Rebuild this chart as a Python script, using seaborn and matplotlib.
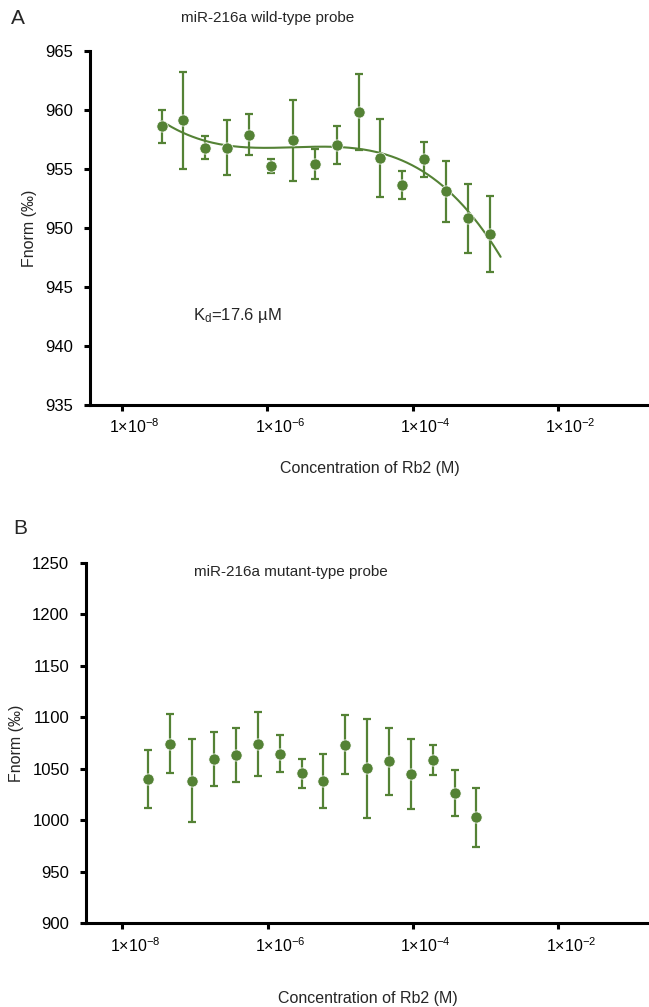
import numpy as np
import matplotlib
matplotlib.use("Agg")
import matplotlib.pyplot as plt
import matplotlib.transforms as mtransforms
import pandas as pd
import seaborn as sns

# panel A: wild-type probe (concentration in M, Fnorm in permille)
conc_wt = [3.51e-8, 7.02e-8, 1.40e-7, 2.81e-7, 5.62e-7, 1.12e-6, 2.25e-6, 4.49e-6,
           8.98e-6, 1.80e-5, 3.59e-5, 7.19e-5, 1.44e-4, 2.88e-4, 5.75e-4, 1.15e-3]
fnorm_wt = [958.6, 959.1, 956.8, 956.8, 957.9, 955.2, 957.4, 955.4,
            957.0, 959.8, 955.9, 953.6, 955.8, 953.1, 950.8, 949.5]
err_wt = [1.4, 4.1, 1.0, 2.3, 1.7, 0.6, 3.4, 1.3,
          1.6, 3.2, 3.3, 1.2, 1.5, 2.6, 2.9, 3.2]

# panel B: mutant-type probe
conc_mut = [2.29e-8, 4.58e-8, 9.16e-8, 1.83e-7, 3.66e-7, 7.32e-7, 1.46e-6, 2.93e-6,
            5.86e-6, 1.17e-5, 2.34e-5, 4.69e-5, 9.38e-5, 1.88e-4, 3.75e-4, 7.50e-4]
fnorm_mut = [1040.4, 1074.3, 1038.4, 1059.2, 1063.4, 1074.0, 1064.6, 1045.6,
             1038.1, 1073.4, 1050.4, 1057.5, 1044.6, 1058.5, 1026.5, 1002.9]
err_mut = [28, 28.5, 40.5, 26.4, 26.4, 31.4, 18, 14,
           26.3, 28.6, 48.2, 32.5, 34, 14.6, 22.5, 28.8]

xtick_vals = [1e-8, 1e-6, 1e-4, 1e-2]
xtick_labels = [r"1×10$^{-8}$", r"1×10$^{-6}$", r"1×10$^{-4}$", r"1×10$^{-2}$"]

green = "#548235"

sns.set_style("ticks")
plt.rcParams["font.family"] = ["Liberation Sans", "DejaVu Sans"]
plt.rcParams["mathtext.fontset"] = "custom"
plt.rcParams["mathtext.rm"] = "Liberation Sans"
plt.rcParams["mathtext.it"] = "Liberation Sans:italic"


def style_axis(ax, yticks, xlim, xlabelpad):
    ax.set_xscale("log")
    ax.set_xlim(*xlim)
    ax.set_xticks(xtick_vals)
    ax.set_xticklabels(xtick_labels)
    ax.minorticks_off()
    ax.set_yticks(yticks)
    ax.set_ylim(yticks[0], yticks[-1])
    sns.despine(ax=ax)
    for s in ["left", "bottom"]:
        ax.spines[s].set_linewidth(2.2)
        ax.spines[s].set_color("black")
    ax.tick_params(direction="out", length=4, width=2.2, colors="black")
    ax.tick_params(axis="y", pad=8, labelsize=12)
    ax.tick_params(axis="x", pad=5, labelsize=11.5)
    # labels in the original sit a little right of their ticks
    shift = mtransforms.ScaledTranslation(9 / 72, 0, ax.figure.dpi_scale_trans)
    for lab in ax.get_xticklabels():
        lab.set_transform(lab.get_transform() + shift)
    ax.set_xlabel("Concentration of Rb2 (M)", fontsize=11.5, labelpad=xlabelpad)
    ax.set_ylabel("Fnorm (‰)", fontsize=11.5, labelpad=6)


def draw_points(ax, x, y, e):
    df = pd.DataFrame({"conc": x, "fnorm": y})
    ax.errorbar(x, y, yerr=e, fmt="none", ecolor=green, elinewidth=1.6,
                capsize=3, capthick=1.6, zorder=2)
    sns.scatterplot(data=df, x="conc", y="fnorm", ax=ax, color=green, s=65,
                    edgecolor="white", linewidth=0.5, zorder=3, legend=False)


fig = plt.figure(figsize=(6.49, 10.07), dpi=100)

# panel A
ax1 = fig.add_axes([0.1387, 0.5978, 0.861, 0.3519])
draw_points(ax1, conc_wt, fnorm_wt, err_wt)
# cubic trend in log10(concentration)
u = np.log10(conc_wt)
coef = np.polyfit(u, fnorm_wt, 3)
u_fit = np.linspace(u.min(), u.max() + 0.15, 200)
ax1.plot(10 ** u_fit, np.polyval(coef, u_fit), color=green, lw=1.5, zorder=2)
style_axis(ax1, [935, 940, 945, 950, 955, 960, 965], (10 ** -8.44, 10 ** -0.75), 18)
ax1.text(0.184, 0.254, r"K$_{\mathrm{d}}$=17.6 µM", transform=ax1.transAxes,
         fontsize=12, va="center", ha="left")
fig.text(268 / 649, 1 - 18 / 1007, "miR-216a wild-type probe", fontsize=11,
         ha="center", va="center")
fig.text(18 / 649, 1 - 18 / 1007, "A", fontsize=15, ha="center", va="center")

# panel B
ax2 = fig.add_axes([0.1325, 0.0831, 0.8675, 0.3581])
draw_points(ax2, conc_mut, fnorm_mut, err_mut)
style_axis(ax2, [900, 950, 1000, 1050, 1100, 1150, 1200, 1250], (10 ** -8.5, 10 ** -0.75), 26)
fig.text(291 / 649, 1 - 572 / 1007, "miR-216a mutant-type probe", fontsize=11,
         ha="center", va="center")
fig.text(20 / 649, 1 - 528 / 1007, "B", fontsize=15, ha="center", va="center")

fig.savefig("out.png", dpi=100)
